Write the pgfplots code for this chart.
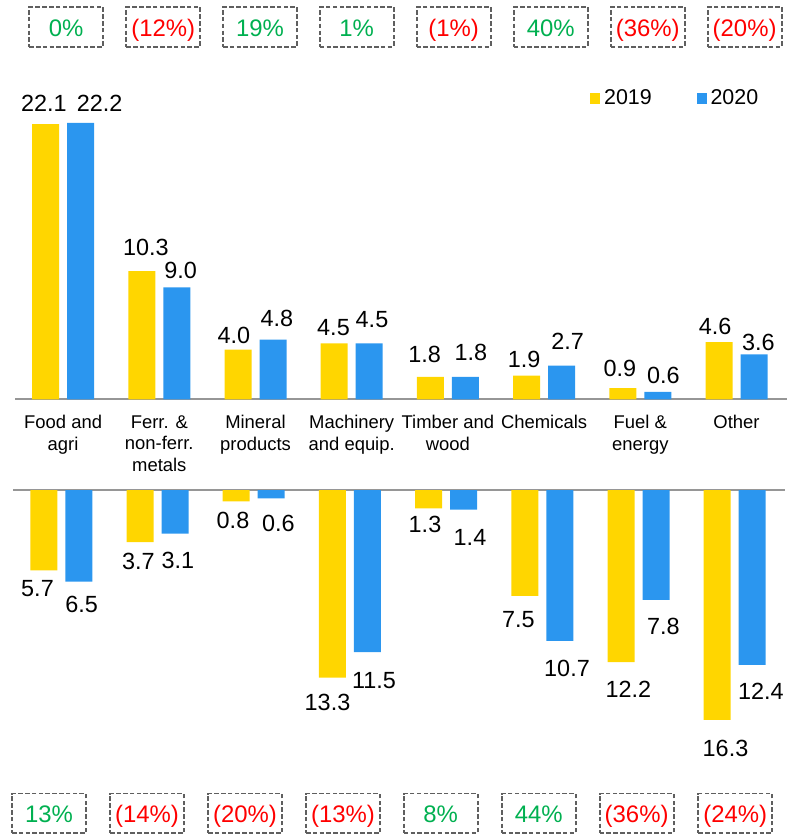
\documentclass[border=0pt]{standalone}
\usepackage{fontspec}
\setmainfont{Liberation Sans}
\usepackage{pgfplots}
\usepackage{pgfplotstable}
\pgfplotsset{compat=1.18}

\definecolor{cyellow}{RGB}{255,214,0}
\definecolor{cblue}{RGB}{43,150,239}
\definecolor{baseg}{RGB}{150,150,150}
\definecolor{boxg}{RGB}{95,95,95}
\definecolor{pgreen}{RGB}{0,176,80}
\definecolor{pred}{RGB}{255,0,0}

\newcommand\valfont{\fontsize{23.5}{27}\selectfont}
\newcommand\catfont{\fontsize{18.5}{21.7}\selectfont}
\newcommand\legfont{\fontsize{21.5}{25}\selectfont}
\newcommand\pctfont{\fontsize{24}{28}\selectfont}

% x = category, y = value, lab = printed value, dx/dy = label offset (px)
\pgfplotstableread{
x y lab dx dy
0 22.1 22.1 -1.8 19.9
1 10.3 10.3 4.1 23.6
2 4.0 4.0 -4.1 14.2
3 4.5 4.5 -0.7 15.5
4 1.8 1.8 -5.7 22.4
5 1.9 1.9 -2.5 15.9
6 0.9 0.9 -3.0 19.3
7 4.6 4.6 -3.8 15.7
}\upA
\pgfplotstableread{
x y lab dx dy
0 22.2 22.2 19.1 19.6
1 9.0 9.0 3.8 16.5
2 4.8 4.8 3.8 20.7
3 4.5 4.5 2.8 23.0
4 1.8 1.8 5.5 23.9
5 2.7 2.7 6.0 24.0
6 0.6 0.6 5.5 15.6
7 3.6 3.6 4.3 11.7
}\upB
\pgfplotstableread{
x y lab dx dy
0 -5.7 5.7 -6.3 -18.8
1 -3.7 3.7 -1.7 -19.5
2 -0.8 0.8 -3.2 -19.5
3 -13.3 13.3 -4.9 -25.0
4 -1.3 1.3 -3.6 -16.0
5 -7.5 7.5 -6.5 -23.7
6 -12.2 12.2 7.3 -28.0
7 -16.3 16.3 8.3 -28.5
}\loA
\pgfplotstableread{
x y lab dx dy
0 -6.5 6.5 2.9 -23.0
1 -3.1 3.1 2.8 -27.1
2 -0.6 0.6 7.1 -25.8
3 -11.5 11.5 6.6 -28.8
4 -1.4 1.4 6.4 -28.0
5 -10.7 10.7 7.2 -27.8
6 -7.8 7.8 7.3 -27.0
7 -12.4 12.4 8.6 -27.2
}\loB

\pgfplotsset{
  barlab/.style={
    point meta=explicit symbolic,
    nodes near coords={\smash{\makebox[0pt]{\raisebox{-0.35em}{\pgfplotspointmeta}}}},
    visualization depends on={\thisrow{dx}\as\dx},
    visualization depends on={\thisrow{dy}\as\dy},
    every node near coord/.append style={font=\valfont, text=black,
      inner sep=0pt, outer sep=0pt, xshift=\dx bp, yshift=\dy bp},
  },
  panel/.style={
    x=96.2bp, xmin=-0.5, xmax=7.52,
    ybar=8bp, bar width=27bp,
    hide y axis, clip=false,
    x axis line style={-, draw=baseg, line width=1.8bp},
    major tick length=0pt,
  },
}

\tikzset{pbox/.style={draw=boxg, line width=1.8bp, dash pattern=on 4.5bp off 2.3bp,
  minimum width=74bp, minimum height=39.5bp, inner sep=0pt}}

\begin{document}
\begin{tikzpicture}
\useasboundingbox (0,0) rectangle (808bp,-834bp);

% exports (upper panel)
\begin{axis}[panel,
  at={(15bp,-399.3bp)}, anchor=south west,
  y=12.45bp, ymin=0, ymax=32,
  axis x line*=bottom,
  xtick={0,...,7},
  xticklabels={Food and\\agri, Ferr. \&\\non-ferr.\\metals, Mineral\\products,
    Machinery\\and equip., Timber and\\wood, Chemicals, Fuel \&\\energy, Other},
  xticklabel style={font=\catfont, align=center, anchor=north, inner sep=0pt, yshift=-16bp},
  legend columns=2,
  legend style={at={(axis cs:5.482,24.19)}, anchor=west, draw=none, fill=none,
    inner sep=0pt, outer sep=0pt, font=\legfont, nodes={inner sep=0pt},
    column sep=3.7bp, /tikz/every even column/.append style={column sep=45bp}},
]
\addplot[fill=cyellow, draw=none, barlab,
  legend image code/.code={\fill[cyellow] (0bp,-5.5bp) rectangle (10bp,5.5bp);}]
  table[x=x, y=y, meta=lab] {\upA};
\addplot[fill=cblue, draw=none, barlab,
  legend image code/.code={\fill[cblue] (0bp,-5.5bp) rectangle (10bp,5.5bp);}]
  table[x=x, y=y, meta=lab] {\upB};
\legend{2019,2020}
\end{axis}

% imports (lower panel)
\begin{axis}[panel,
  at={(13.2bp,-490bp)}, anchor=north west,
  y=14.1bp, ymin=-20, ymax=0,
  axis x line*=top, xtick=\empty,
]
\addplot[fill=cyellow, draw=none, barlab] table[x=x, y=y, meta=lab] {\loA};
\addplot[fill=cblue, draw=none, barlab] table[x=x, y=y, meta=lab] {\loB};
\end{axis}

% change boxes
\foreach \x/\c/\t in {66.2/pgreen/0\%, 163.2/pred/(12\%), 260/pgreen/19\%,
    356.7/pgreen/1\%, 453.6/pred/(1\%), 550.8/pgreen/40\%, 647.7/pred/(36\%),
    744.6/pred/(20\%)} {
  \node[pbox] at (\x bp,-27bp) {};
  \node[anchor=base, font=\pctfont, text=\c, inner sep=0pt] at (\x bp,-36bp) {\t};
}
\foreach \x/\c/\t in {49/pgreen/13\%, 147/pred/(14\%), 245/pred/(20\%),
    343/pred/(13\%), 440.7/pgreen/8\%, 538.7/pgreen/44\%, 636.6/pred/(36\%),
    735.3/pred/(24\%)} {
  \node[pbox] at (\x bp,-813.3bp) {};
  \node[anchor=base, font=\pctfont, text=\c, inner sep=0pt] at (\x bp,-822.5bp) {\t};
}
\end{tikzpicture}
\end{document}
